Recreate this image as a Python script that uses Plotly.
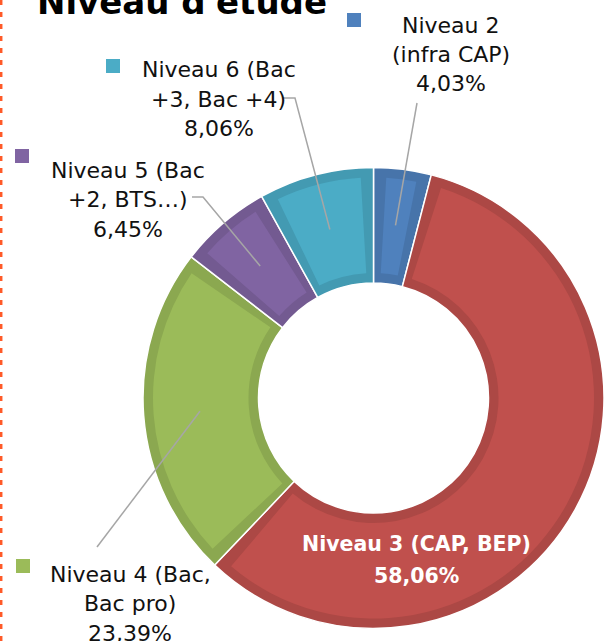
import math
import plotly.graph_objects as go

# ---------------- data ----------------
categories = ["Niveau 2 (infra CAP)", "Niveau 3 (CAP, BEP)", "Niveau 4 (Bac, Bac pro)",
              "Niveau 5 (Bac +2, BTS…)", "Niveau 6 (Bac +3, Bac +4)"]
label_lines = [["Niveau 2", "(infra CAP)"],
               ["Niveau 3 (CAP, BEP)"],
               ["Niveau 4 (Bac,", "Bac pro)"],
               ["Niveau 5 (Bac", "+2, BTS…)"],
               ["Niveau 6 (Bac", "+3, Bac +4)"]]
counts = [5, 72, 29, 8, 10]
colors = ["#4F81BD", "#C0504D", "#9BBB59", "#8064A2", "#4BACC6"]
title_text = "Niveau d'étude"

# ---------------- layout constants ----------------
W, H = 606, 641
cx, cy, R, r_in, border = 373.5, 398.0, 230.5, 115.0, 10.0


def px(x):
    return x / W


def py(y):
    return 1 - y / H


def darker(hexc, f=0.9):
    h = hexc.lstrip("#")
    r, g, b = (int(h[i:i + 2], 16) for i in (0, 2, 4))
    return "rgb(%d,%d,%d)" % (r * f, g * f, b * f)


total = sum(counts)
pct_text = [("%.2f%%" % (c / total * 100)).replace(".", ",") for c in counts]

fig = go.Figure()

# bottom pie: darker rim colours
fig.add_trace(go.Pie(
    values=counts, labels=categories, sort=False, direction="clockwise", rotation=0,
    hole=r_in / R, textinfo="none", showlegend=False, hoverinfo="label+percent",
    marker=dict(colors=[darker(c) for c in colors], line=dict(color="white", width=1.5)),
    domain=dict(x=[px(cx - R), px(cx + R)], y=[py(cy + R), py(cy - R)]),
))

# top pie: lighter inset faces
R2 = R - border
r2 = r_in + border
r_mid = (R2 + r2) / 2
gap = (border / r_mid) / (2 * math.pi) * total
top_vals, top_cols, top_labels = [], [], []
for lab, c, col in zip(categories, counts, colors):
    top_vals += [gap, c - 2 * gap, gap]
    top_cols += ["rgba(0,0,0,0)", col, "rgba(0,0,0,0)"]
    top_labels += [lab + " a", lab, lab + " b"]
fig.add_trace(go.Pie(
    values=top_vals, labels=top_labels, sort=False, direction="clockwise", rotation=0,
    hole=r2 / R2, textinfo="none", showlegend=False, hoverinfo="skip",
    marker=dict(colors=top_cols, line=dict(width=0)),
    domain=dict(x=[px(cx - R2), px(cx + R2)], y=[py(cy + R2), py(cy - R2)]),
))

shapes = []
annotations = []

# dashed left border
shapes.append(dict(type="line", xref="paper", yref="paper", x0=px(1.2), x1=px(1.2), y0=0, y1=1,
                   line=dict(color="#FF5A28", width=2.5, dash="5px,7px")))

# title (cut at the top like the reference)
annotations.append(dict(text="<b>" + title_text + "</b>", xref="paper", yref="paper",
                        x=px(182), y=py(2), xanchor="center", yanchor="middle", showarrow=False,
                        font=dict(family="DejaVu Sans", size=34, color="#000000")))

# label placement (layout positions)
label_pos = {0: (451, 25.0), 2: (130, 574.0), 3: (128, 170.5), 4: (218.5, 69.5)}
line_step = 29.5
key_pos = {0: (347, 13), 2: (16, 559), 3: (15, 149), 4: (106, 59)}
leader_start = {0: [(417, 103)], 2: [(97, 547)], 3: [(192, 197), (203, 197)],
                4: [(283, 98), (295, 98)]}
r_pt = 174

cum = 0
for i, c in enumerate(counts):
    theta = 2 * math.pi * (cum + c / 2) / total
    cum += c
    if i == 1:
        # inside label, white bold
        for j, t in enumerate(label_lines[i] + [pct_text[i]]):
            annotations.append(dict(text="<b>" + t + "</b>", xref="paper", yref="paper",
                                    x=px(416), y=py(543.5 + j * 32), xanchor="center",
                                    yanchor="middle", showarrow=False,
                                    font=dict(family="DejaVu Sans", size=20.5, color="white")))
        continue
    lx, ly = label_pos[i]
    for j, t in enumerate(label_lines[i] + [pct_text[i]]):
        annotations.append(dict(text=t, xref="paper", yref="paper", x=px(lx), y=py(ly + j * line_step),
                                xanchor="center", yanchor="middle", showarrow=False,
                                font=dict(family="DejaVu Sans", size=22, color="#111111")))
    kx, ky = key_pos[i]
    shapes.append(dict(type="rect", xref="paper", yref="paper", x0=px(kx), x1=px(kx + 14),
                       y0=py(ky + 14), y1=py(ky), fillcolor=colors[i], line=dict(width=0)))
    ex = cx + r_pt * math.sin(theta)
    ey = cy - r_pt * math.cos(theta)
    pts = leader_start[i] + [(ex, ey)]
    path = "M " + " L ".join("%.5f,%.5f" % (px(x), py(y)) for x, y in pts)
    shapes.append(dict(type="path", xref="paper", yref="paper", path=path,
                       line=dict(color="#A6A6A6", width=1.5)))

fig.update_layout(
    width=W, height=H, margin=dict(l=0, r=0, t=0, b=0),
    paper_bgcolor="white", plot_bgcolor="white",
    shapes=shapes, annotations=annotations, showlegend=False,
)

fig.write_html("out.html", config={"displayModeBar": False},
               post_script="document.body.style.margin='0';document.body.style.overflow='hidden';")
